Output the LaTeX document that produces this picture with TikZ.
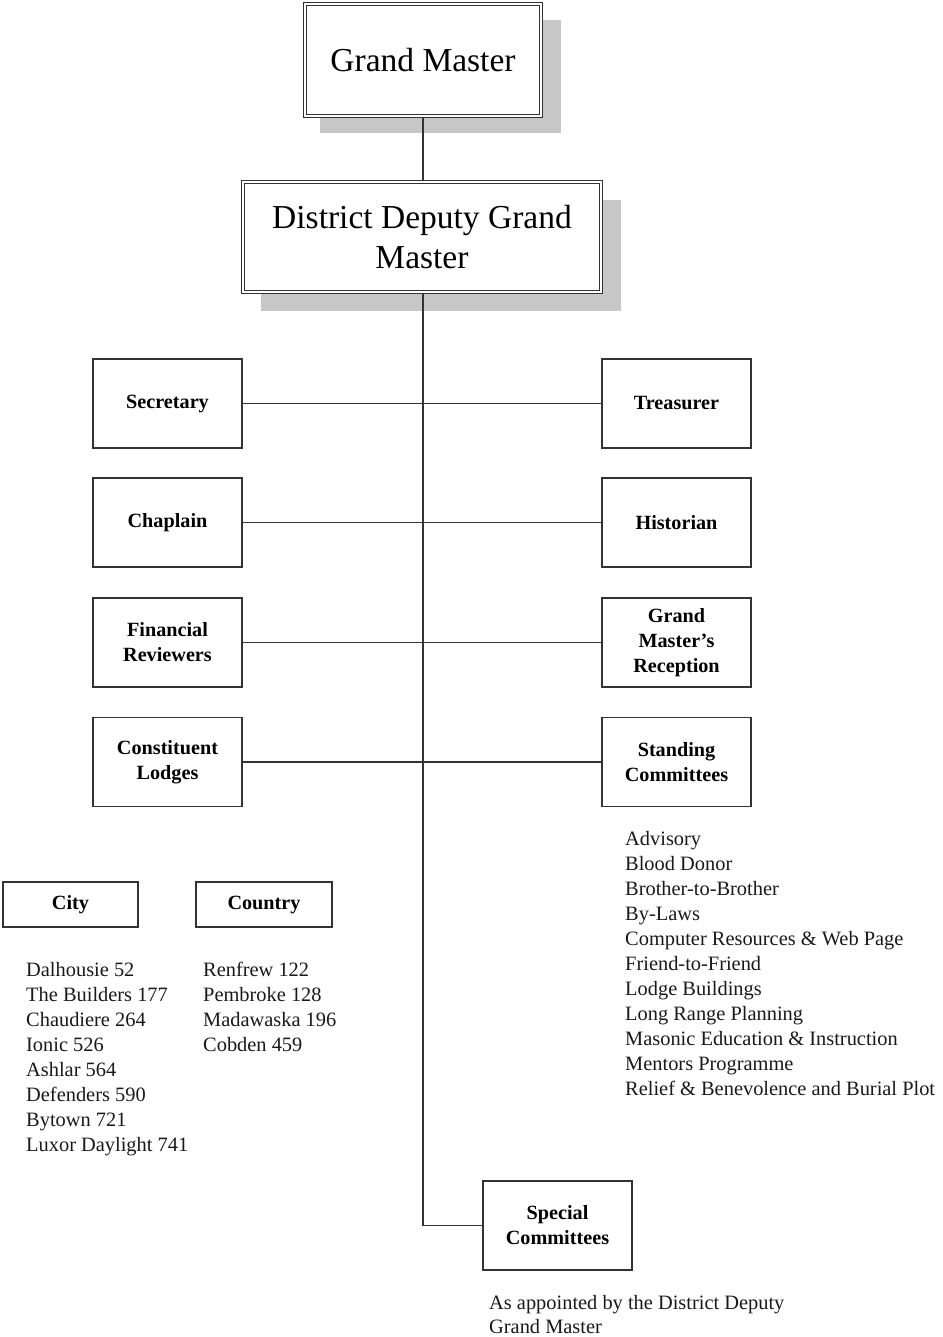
\documentclass[tikz,border=0pt]{standalone}
\usepackage{fontspec}
\setmainfont{Liberation Serif}
\begin{document}
\begin{tikzpicture}[x=1pt,y=-1pt,
  line/.style={draw=black!80,line width=1.5pt},
  shadowbox/.style={fill=black!22,draw=none},
  topbox/.style={draw=black!80,double=white,double distance=2.2pt,line width=1.2pt,fill=white,inner sep=0pt,align=center,font=\fontsize{33.5}{40}\selectfont},
  sidebox/.style={draw=black!80,line width=1.4pt,fill=white,minimum width=149pt,minimum height=89pt,inner sep=0pt,align=center,font=\fontsize{20.2}{25}\selectfont\bfseries},
  smallbox/.style={draw=black!80,line width=1.4pt,fill=white,minimum height=45pt,inner sep=0pt,align=center,font=\fontsize{20.2}{25}\selectfont\bfseries},
  listtext/.style={anchor=base west,inner sep=0pt,font=\fontsize{20.4}{25}\selectfont,text=black!90}]
\useasboundingbox (0,0) rectangle (942,1337);
% shadows
\path[shadowbox] (320,20) rectangle (561,133);
\path[shadowbox] (261,200) rectangle (621,311);
% top boxes
\node[topbox,minimum width=236pt,minimum height=112pt] (gm) at (423,60) {Grand Master};
\node[topbox,minimum width=358pt,minimum height=110pt] (ddgm) at (422,237) {District Deputy Grand\\Master};
% side boxes
\node[sidebox] (sec) at (167.5,403.5) {Secretary};
\node[sidebox] (tre) at (676.5,403.5) {Treasurer};
\node[sidebox] (cha) at (167.5,522.5) {Chaplain};
\node[sidebox] (his) at (676.5,522.5) {Historian};
\node[sidebox] (fin) at (167.5,642.5) {Financial\\Reviewers};
\node[sidebox] (gmr) at (676.5,642.5) {Grand\\Master's\\Reception};
\node[sidebox] (con) at (167.5,762) {Constituent\\Lodges};
\node[sidebox] (sta) at (676.5,762) {Standing\\Committees};
\node[sidebox] (spe) at (557.5,1225.5) {Special\\Committees};
\node[smallbox,minimum width=135pt] (city) at (70.5,904.5) {City};
\node[smallbox,minimum width=136pt] (country) at (264,904.5) {Country};
% connectors
\coordinate (bend) at (gm.south |- spe.west);
\draw[line] (gm.south) -- (gm.south |- ddgm.north);
\draw[line] (gm.south |- ddgm.south) -- (bend) -- (spe.west);
\draw[line] (sec.east) -- (tre.west);
\draw[line] (cha.east) -- (his.west);
\draw[line] (fin.east) -- (gmr.west);
\draw[line] (con.east) -- (sta.west);
% lists
\foreach \t [count=\i] in {Dalhousie 52,The Builders 177,Chaudiere 264,Ionic 526,Ashlar 564,Defenders 590,Bytown 721,Luxor Daylight 741}
  \node[listtext] (cityl\i) at (26,{951+25*\i}) {\t};
\foreach \t [count=\i] in {Renfrew 122,Pembroke 128,Madawaska 196,Cobden 459}
  \node[listtext] (countryl\i) at (203,{951+25*\i}) {\t};
\foreach \t [count=\i] in {Advisory,Blood Donor,Brother-to-Brother,By-Laws,Computer Resources \& Web Page,Friend-to-Friend,Lodge Buildings,Long Range Planning,Masonic Education \& Instruction,Mentors Programme,Relief \& Benevolence and Burial Plot}
  \node[listtext] (stal\i) at (625,{820+25*\i}) {\t};
\node[listtext] (app1) at (489,1309) {As appointed by the District Deputy};
\node[listtext] (app2) at (489,1333) {Grand Master};
\end{tikzpicture}
\end{document}
